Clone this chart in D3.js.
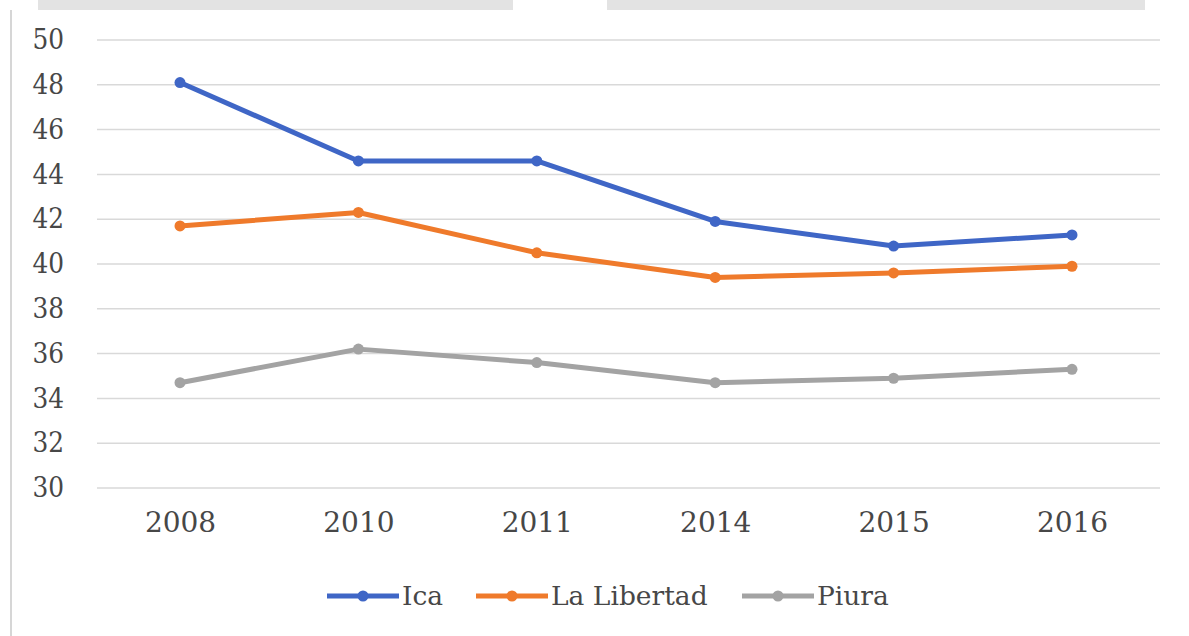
<html>
<head>
<meta charset="utf-8">
<script src="https://cdnjs.cloudflare.com/ajax/libs/d3/7.8.5/d3.min.js"></script>
<style>
  body { margin: 0; background: #fff; }
  svg { display: block; }
  text { fill: #474747; }
</style>
</head>
<body>
<svg id="chart"></svg>
<script>
const WIDTH = 1189
const HEIGHT = 636
const SERIF = "'DejaVu Serif', serif"

const years = ["2008", "2010", "2011", "2014", "2015", "2016"]
const seriesNames = ["Ica", "La Libertad", "Piura"]
const icaValues = [48.1, 44.6, 44.6, 41.9, 40.8, 41.3]
const libertadValues = [41.7, 42.3, 40.5, 39.4, 39.6, 39.9]
const piuraValues = [34.7, 36.2, 35.6, 34.7, 34.9, 35.3]
const yTicks = [30, 32, 34, 36, 38, 40, 42, 44, 46, 48, 50]
const colors = ["#3f66c6", "#ef7a2b", "#a3a3a3"]

const allSeries = [icaValues, libertadValues, piuraValues]

const svg = d3.select("#chart").attr("width", WIDTH).attr("height", HEIGHT)

// screenshot leftovers: grey strip at the top and thin rule on the left
svg.append("rect").attr("x", 38).attr("y", 0).attr("width", 475).attr("height", 10).attr("fill", "#e3e3e3")
svg.append("rect").attr("x", 607).attr("y", 0).attr("width", 538).attr("height", 10).attr("fill", "#e3e3e3")
svg.append("line").attr("x1", 11).attr("x2", 11).attr("y1", 10).attr("y2", HEIGHT)
  .attr("stroke", "#d6d6d6").attr("stroke-width", 2)

const xScale = d3.scalePoint()
  .domain(years)
  .range([180, 1072])

const yScale = d3.scaleLinear()
  .domain([30, 50])
  .range([488, 40])

// gridlines
svg.append("g")
  .selectAll("line")
  .data(yTicks)
  .enter().append("line")
  .attr("x1", 97).attr("x2", 1160)
  .attr("y1", d => yScale(d)).attr("y2", d => yScale(d))
  .attr("stroke", "#d9d9d9").attr("stroke-width", 1.5)

// y axis
const yAxis = d3.axisLeft(yScale).tickValues(yTicks).tickSize(0).tickPadding(0)
svg.append("g")
  .attr("transform", "translate(64,0)")
  .call(yAxis)
  .attr("font-family", SERIF)
  .call(g => g.select(".domain").remove())
  .selectAll("text").attr("font-size", 27).attr("transform", "scale(0.92,1)")

// x axis
const xAxis = d3.axisBottom(xScale).tickSize(0).tickPadding(0)
svg.append("g")
  .attr("transform", "translate(0,511)")
  .call(xAxis)
  .attr("font-family", SERIF)
  .call(g => g.select(".domain").remove())
  .selectAll("text").attr("font-size", 28).attr("dy", "0.75em")

const line = d3.line()
  .x((d, i) => xScale(years[i]))
  .y(d => yScale(d))

allSeries.forEach(function(values, k) {
  svg.append("path")
    .datum(values)
    .attr("fill", "none")
    .attr("stroke", colors[k])
    .attr("stroke-width", 5)
    .attr("stroke-linejoin", "round")
    .attr("d", line)
  svg.append("g")
    .selectAll("circle")
    .data(values)
    .enter().append("circle")
    .attr("cx", (d, i) => xScale(years[i]))
    .attr("cy", d => yScale(d))
    .attr("r", 5.5)
    .attr("fill", colors[k])
})

// legend
const legendX = [327, 476, 742]
const legend = svg.append("g").attr("transform", "translate(0,596)")
seriesNames.forEach(function(name, k) {
  const g = legend.append("g").attr("transform", `translate(${legendX[k]},0)`)
  g.append("line").attr("x1", 0).attr("x2", 72).attr("y1", 0).attr("y2", 0)
    .attr("stroke", colors[k]).attr("stroke-width", 5)
  g.append("circle").attr("cx", 36).attr("cy", 0).attr("r", 5.5).attr("fill", colors[k])
  g.append("text").attr("x", 75).attr("y", 0).attr("dy", "0.35em")
    .attr("font-family", SERIF)
    .attr("font-size", 26.5)
    .text(name)
})
</script>
</body>
</html>
